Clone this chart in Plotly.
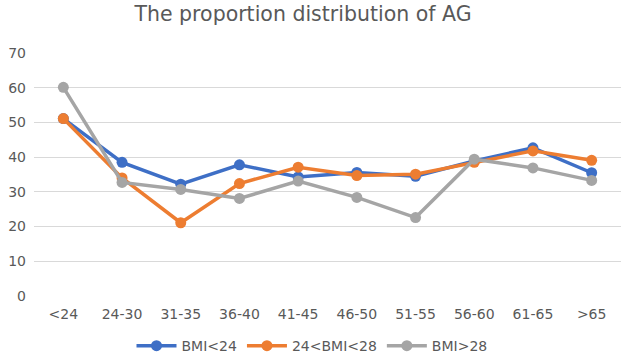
import plotly.graph_objects as go

categories = ["<24", "24-30", "31-35", "36-40", "41-45", "46-50", "51-55", "56-60", "61-65", ">65"]
bmi_lt24 = [51.1, 38.5, 32.2, 37.8, 34.3, 35.6, 34.5, 38.9, 42.7, 35.5]
bmi_24_28 = [51.1, 34.0, 21.1, 32.4, 37.1, 34.7, 35.1, 38.5, 41.8, 39.1]
bmi_gt28 = [60.1, 32.7, 30.7, 28.1, 33.1, 28.4, 22.6, 39.4, 36.9, 33.3]
y_ticks = [0, 10, 20, 30, 40, 50, 60, 70]

series = [
    ("BMI<24", bmi_lt24, "#3E6FC6"),
    ("24<BMI<28", bmi_24_28, "#ED7D31"),
    ("BMI>28", bmi_gt28, "#A5A5A5"),
]

fig = go.Figure()
for name, vals, color in series:
    fig.add_trace(go.Scatter(
        x=categories, y=vals, name=name, mode="lines+markers",
        line=dict(color=color, width=3.5),
        marker=dict(color=color, size=11),
    ))

tick_font = "DejaVu Sans, Noto Sans, sans-serif"
fig.update_layout(
    width=624, height=356,
    margin=dict(l=34, r=3, t=53, b=60),
    paper_bgcolor="white", plot_bgcolor="white",
    font=dict(family=tick_font, color="#595959", size=14),
    title=dict(text="The proportion distribution of AG", x=0.4856, xanchor="center",
               y=0.962, yanchor="middle",
               font=dict(family=tick_font, size=20.5, color="#595959")),
    xaxis=dict(range=[-0.5, 9.5], showgrid=False, showline=False, zeroline=False, ticks="",
               automargin=False, ticklabelstandoff=8, tickfont=dict(size=14, color="#595959")),
    yaxis=dict(range=[0, 70], tickvals=y_ticks, showgrid=True, gridcolor="#D9D9D9",
               gridwidth=1, zeroline=False, showline=False, ticks="",
               automargin=False, ticklabelstandoff=7,
               tickfont=dict(size=14, color="#595959")),
    legend=dict(orientation="h", x=0.5, xanchor="center", xref="container",
                y=0.028, yanchor="middle", yref="container",
                font=dict(size=14, color="#595959"), itemwidth=40),
    showlegend=True,
)

fig.write_html("out.html", config={"displayModeBar": False},
               post_script="document.body.style.margin='0';")
